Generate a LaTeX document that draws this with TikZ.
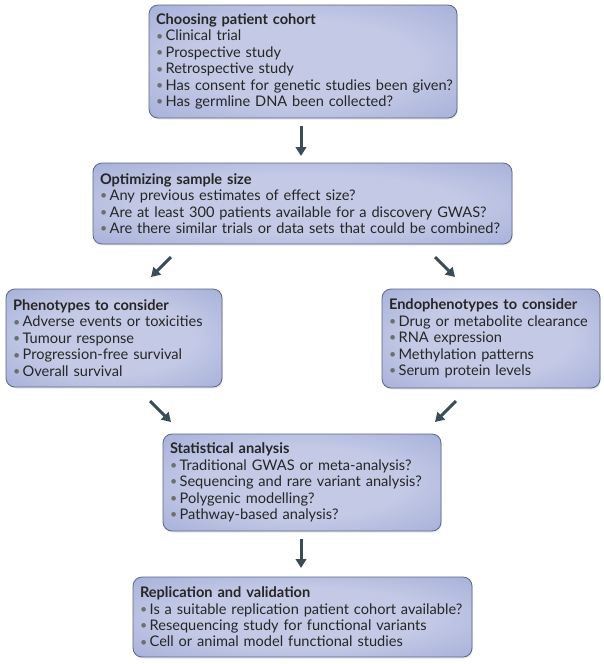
\documentclass[tikz,border=0pt]{standalone}
\usepackage{fontspec}
\setmainfont{Lato}
\usetikzlibrary{arrows.meta,shadows}
\definecolor{boxin}{HTML}{C4CAE6}
\definecolor{boxmid}{HTML}{A2ACD7}
\definecolor{boxout}{HTML}{7A86BA}
\definecolor{boxline}{HTML}{5C6688}
\definecolor{txt}{HTML}{262626}
\definecolor{bulgray}{HTML}{6E6E6E}
\definecolor{arrcol}{HTML}{3B4C57}
\pgfdeclareradialshading{boxshade}{\pgfpoint{0bp}{0bp}}{color(0bp)=(boxin); color(18bp)=(boxin); color(39bp)=(boxmid); color(51bp)=(boxout); color(75bp)=(boxout)}
\newcommand{\bul}{{\color{bulgray}\raisebox{0.05em}{\scalebox{0.85}{•}}}\,}
\newcommand{\li}[1]{\mbox{\bul #1}}
\newcommand{\ttl}[1]{\mbox{\textbf{#1}}}
\begin{document}
\begin{tikzpicture}[x=1pt,y=-1pt,
  fbox/.style={draw=boxline, line width=0.8pt, rounded corners=9pt, shading=boxshade,
    drop shadow={opacity=0.2, shadow xshift=0.8pt, shadow yshift=-1.5pt},
    inner xsep=7pt, inner ysep=4pt, align=left, text=txt,
    font=\fontsize{14.6}{16.4}\selectfont},
  arr/.style={draw=arrcol, line width=3pt, -{Triangle[length=9pt,width=10.5pt]}}]
\useasboundingbox (0,0) rectangle (604,664);
\node[fbox, minimum width=308pt, minimum height=113pt, text width=294pt] (b1) at (303,61.5) {%
\ttl{Choosing patient cohort}\\
\li{Clinical trial}\\
\li{Prospective study}\\
\li{Retrospective study}\\
\li{Has consent for genetic studies been given?}\\
\li{Has germline DNA been collected?}};
\node[fbox, minimum width=419pt, minimum height=81pt, text width=405pt] (b2) at (302.5,203.5) {%
\ttl{Optimizing sample size}\\
\li{Any previous estimates of effect size?}\\
\li{Are at least 300 patients available for a discovery GWAS?}\\
\li{Are there similar trials or data sets that could be combined?}};
\node[fbox, minimum width=216pt, minimum height=98pt, text width=202pt] (b3) at (114,338) {%
\ttl{Phenotypes to consider}\\
\li{Adverse events or toxicities}\\
\li{Tumour response}\\
\li{Progression-free survival}\\
\li{Overall survival}};
\node[fbox, minimum width=218pt, minimum height=99pt, text width=204pt] (b4) at (491,338.5) {%
\ttl{Endophenotypes to consider}\\
\li{Drug or metabolite clearance}\\
\li{RNA expression}\\
\li{Methylation patterns}\\
\li{Serum protein levels}};
\node[fbox, minimum width=278pt, minimum height=97pt, text width=264pt] (b5) at (302,482.5) {%
\ttl{Statistical analysis}\\
\li{Traditional GWAS or meta-analysis?}\\
\li{Sequencing and rare variant analysis?}\\
\li{Polygenic modelling?}\\
\li{Pathway-based analysis?}};
\node[fbox, minimum width=339pt, minimum height=80pt, text width=325pt] (b6) at (302.5,617) {%
\ttl{Replication and validation}\\
\li{Is a suitable replication patient cohort available?}\\
\li{Resequencing study for functional variants}\\
\li{Cell or animal model functional studies}};
\coordinate (a1s) at (301,126);
\coordinate (a1e) at (301,156);
\coordinate (a2ls) at (171,257);
\coordinate (a2le) at (151,277);
\coordinate (a2rs) at (435,257);
\coordinate (a2re) at (455,277);
\coordinate (a3ls) at (150,401);
\coordinate (a3le) at (171,422);
\coordinate (a3rs) at (456,401);
\coordinate (a3re) at (435,422);
\coordinate (a4s) at (301,539);
\coordinate (a4e) at (301,568);
\draw[arr] (a1s) -- (a1e);
\draw[arr] (a2ls) -- (a2le);
\draw[arr] (a2rs) -- (a2re);
\draw[arr] (a3ls) -- (a3le);
\draw[arr] (a3rs) -- (a3re);
\draw[arr] (a4s) -- (a4e);
\end{tikzpicture}
\end{document}
